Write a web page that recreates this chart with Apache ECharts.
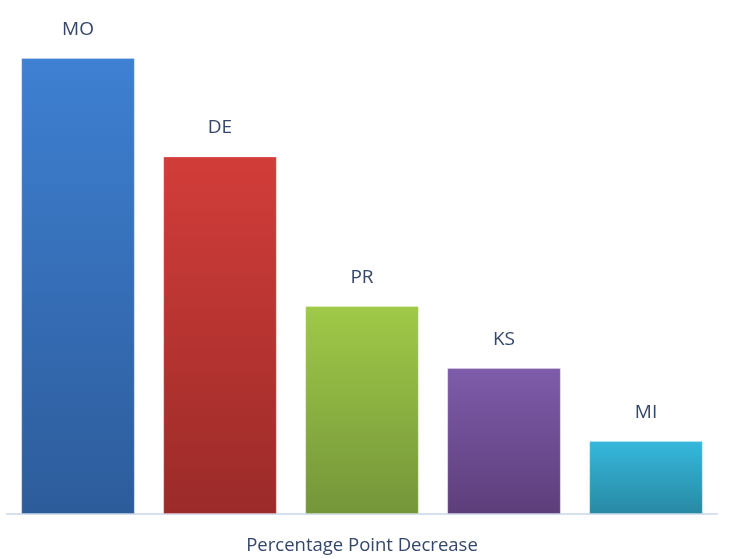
<!DOCTYPE html>
<html>
<head>
<meta charset="utf-8">
<style>
  html, body { margin: 0; padding: 0; background: #ffffff; }
  #chart { width: 733px; height: 558px; }
</style>
<script src="https://cdn.jsdelivr.net/npm/echarts@6/dist/echarts.min.js"></script>
</head>
<body>
<div id="chart"></div>
<script>
// State abbreviations and their percentage-point decrease
const states = ['MO', 'DE', 'PR', 'KS', 'MI'];
const decrease = [12.5, 9.8, 5.7, 4.0, 2.0];
// Gradient stops per bar: [top colour, bottom colour]
const barColors = [
  ['#3e80d2', '#2d5c9b'],
  ['#d23d39', '#9b2b29'],
  ['#9fca47', '#75953a'],
  ['#7e5caa', '#5d3e7b'],
  ['#36b8dc', '#2889a3']
];
const axisTitle = 'Percentage Point Decrease';

const chart = echarts.init(document.getElementById('chart'));

const data = decrease.map((v, i) => ({
  value: v,
  itemStyle: {
    color: new echarts.graphic.LinearGradient(0, 0, 0, 1, [
      { offset: 0, color: barColors[i][0] },
      { offset: 1, color: barColors[i][1] }
    ]),
    borderColor: 'rgba(255,255,255,0.25)',
    borderWidth: 1
  }
}));

chart.setOption({
  animation: false,
  backgroundColor: '#ffffff',
  grid: { left: 7, right: 16, top: 58, bottom: 44, outerBoundsMode: 'none', containLabel: false },
  xAxis: {
    type: 'category',
    data: states,
    name: axisTitle,
    nameLocation: 'middle',
    nameGap: 22,
    nameTextStyle: {
      fontFamily: 'Open Sans',
      fontSize: 18.5,
      color: '#34476a'
    },
    axisLine: { show: true, lineStyle: { color: '#d6e0ef', width: 2 } },
    axisTick: { show: false },
    axisLabel: { show: false }
  },
  yAxis: {
    type: 'value',
    min: 0,
    max: 12.5,
    show: false,
    splitLine: { show: false }
  },
  series: [{
    type: 'bar',
    data: data,
    barCategoryGap: '20%',
    label: {
      show: true,
      position: 'top',
      distance: 19,
      formatter: (p) => states[p.dataIndex],
      fontFamily: 'Open Sans',
      fontSize: 19,
      color: '#34476a'
    }
  }]
});
</script>
</body>
</html>
